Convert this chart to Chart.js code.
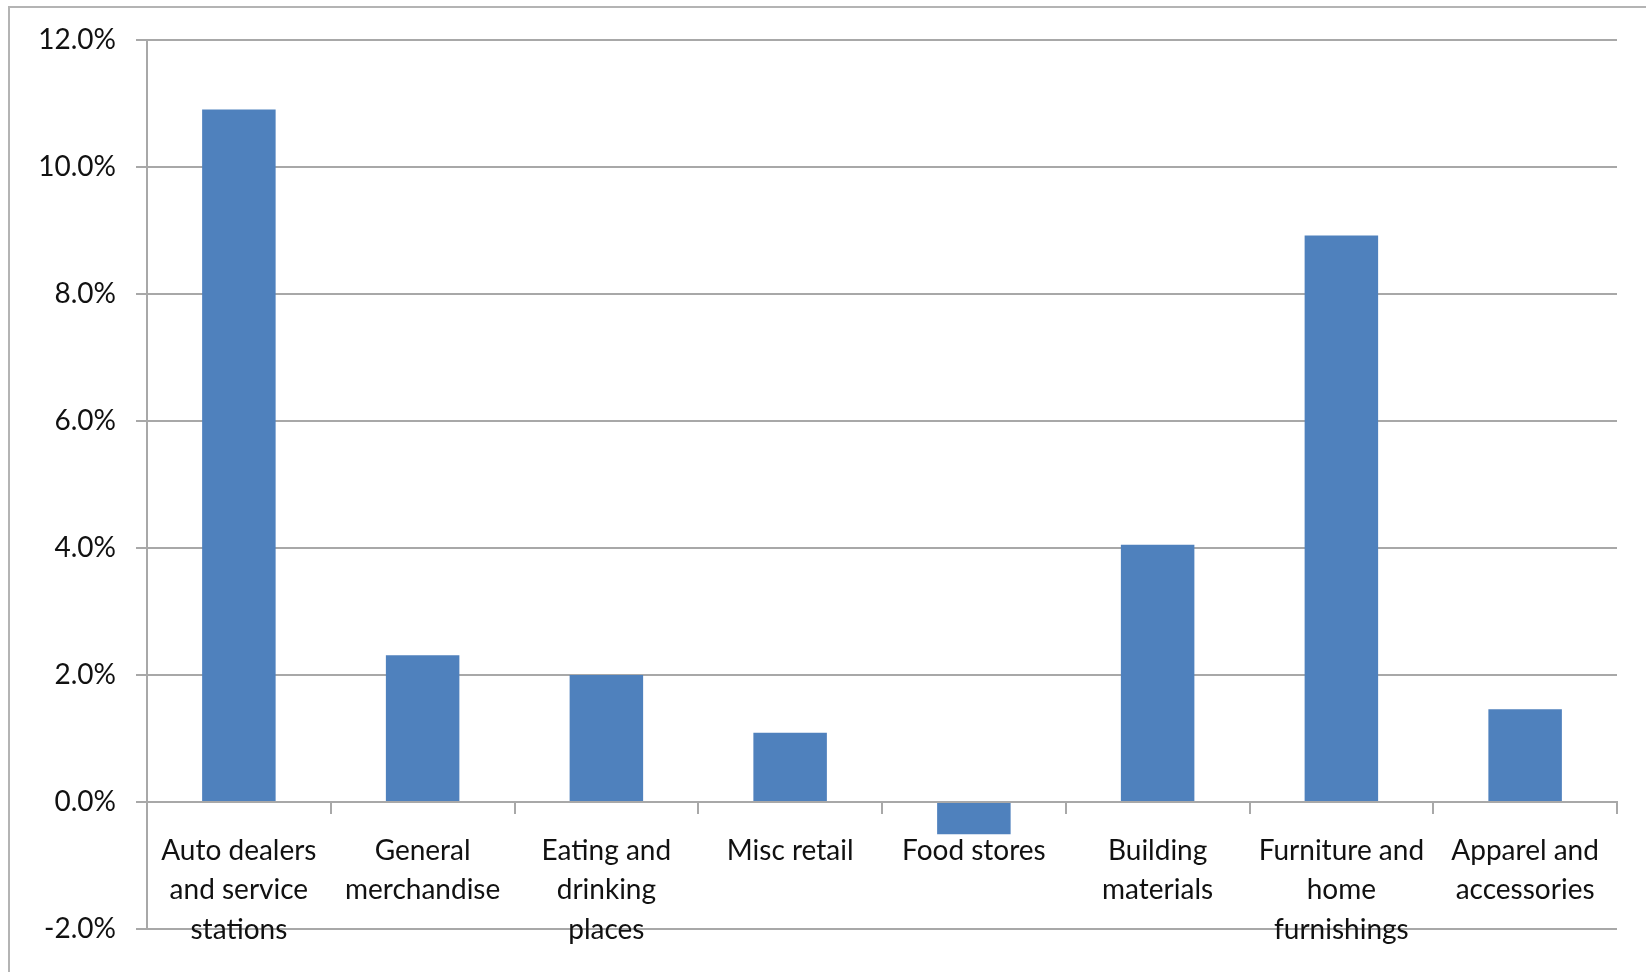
<!DOCTYPE html>
<html>
<head>
<meta charset="utf-8">
<title>Retail sales growth by category</title>
<script src="https://cdn.jsdelivr.net/npm/chart.js@4"></script>
<style>
  html, body { margin: 0; padding: 0; background: #fff; }
  #wrap { position: relative; width: 1646px; height: 972px; overflow: hidden; }
  #frame {
    position: absolute; left: 8px; top: 6px; width: 1636px; height: 980px;
    border-left: 2px solid #b4b4b4; border-top: 2px solid #b4b4b4; border-right: 2px solid #b4b4b4;
  }
  #chart { position: absolute; left: 0; top: 0; }
</style>
</head>
<body>
<div id="wrap">
  <div id="frame"></div>
  <canvas id="chart" width="1646" height="972"></canvas>
</div>
<script>
// Kategoriler (çok satırlı etiketler)
const categories = [
    ['Auto dealers', 'and service', 'stations'],
    ['General', 'merchandise'],
    ['Eating and', 'drinking', 'places'],
    ['Misc retail'],
    ['Food stores'],
    ['Building', 'materials'],
    ['Furniture and', 'home', 'furnishings'],
    ['Apparel and', 'accessories']
];

// Büyüme oranları (%)
const growth = [10.9, 2.31, 2.0, 1.09, -0.51, 4.05, 8.92, 1.46];

// Y ekseni sınırları
const yMin = -2;
const yMax = 12;
const yStep = 2;

const barColor = '#4f81bd';
const gridColor = '#a8a8a8';
const textColor = '#111111';

const tickFont = {
    family: 'Lato',
    size: 28,
    lineHeight: 1.41
};

const ctx = document.getElementById('chart').getContext('2d');
new Chart(ctx, {
    type: 'bar',
    data: {
        labels: categories,
        datasets: [{
            data: growth,
            backgroundColor: barColor,
            borderWidth: 0,
            categoryPercentage: 1.0,
            barPercentage: 0.4
        }]
    },
    options: {
        responsive: false,
        animation: false,
        layout: {
            padding: { left: 0, top: 38, right: 29, bottom: 43 }
        },
        plugins: {
            legend: { display: false },
            tooltip: { enabled: false }
        },
        scales: {
            x: {
                position: { y: 0 },
                offset: true,
                grid: {
                    offset: true,
                    drawOnChartArea: false,
                    drawTicks: true,
                    tickLength: 11,
                    color: gridColor,
                    lineWidth: 2
                },
                border: { display: true, color: gridColor, width: 2 },
                ticks: {
                    color: textColor,
                    font: tickFont,
                    padding: 18,
                    maxRotation: 0,
                    autoSkip: false
                }
            },
            y: {
                min: yMin,
                max: yMax,
                afterFit: scale => { scale.width = 147; },
                grid: {
                    color: gridColor,
                    lineWidth: 2,
                    tickLength: 11
                },
                border: { display: true, color: gridColor, width: 2 },
                ticks: {
                    stepSize: yStep,
                    color: textColor,
                    font: tickFont,
                    padding: 20,
                    callback: v => v.toFixed(1) + '%'
                }
            }
        }
    }
});
</script>
</body>
</html>
